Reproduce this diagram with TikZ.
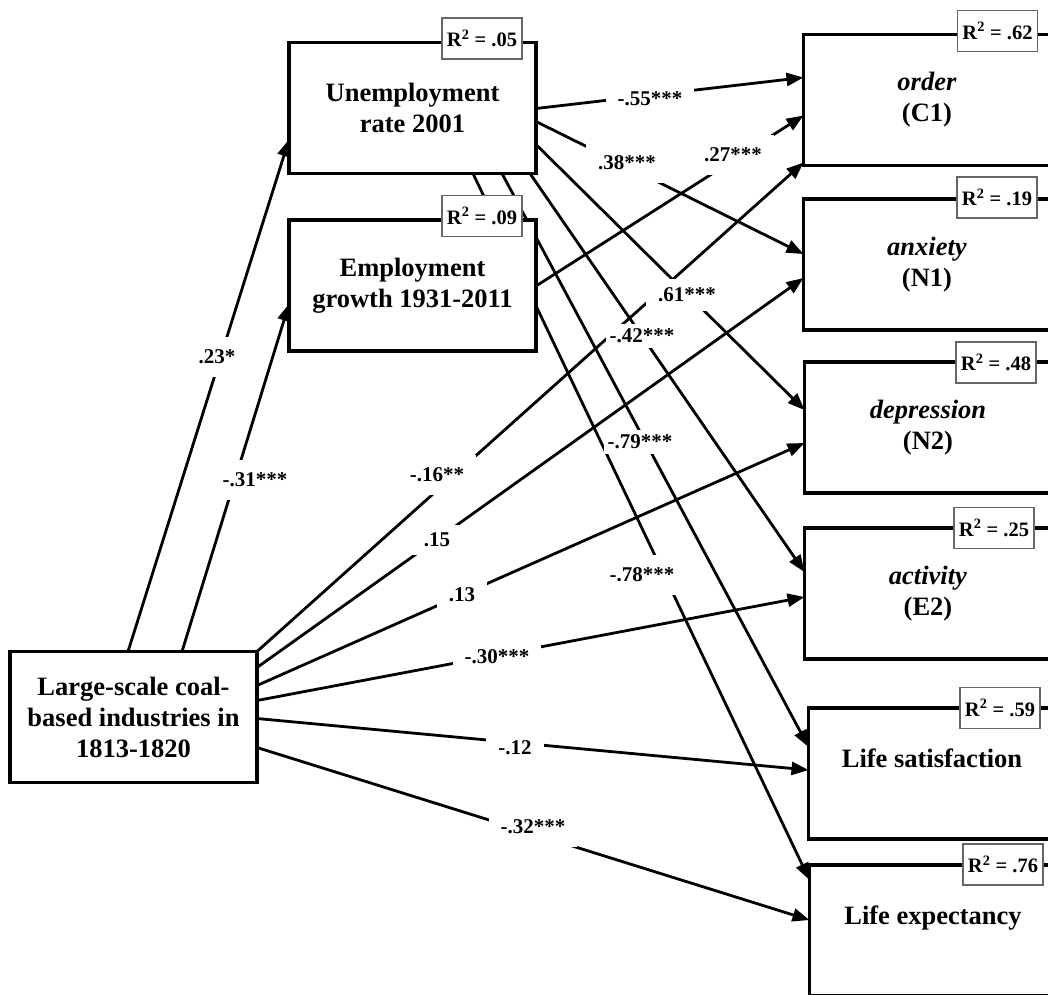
\documentclass[tikz,border=0pt]{standalone}
\usepackage{fontspec}
\setmainfont{Liberation Serif}
\usetikzlibrary{arrows.meta,calc}
\pgfdeclarelayer{bg}
\pgfsetlayers{bg,main}
\begin{document}
\begin{tikzpicture}[x=1pt,y=-1pt,
  box/.style={draw=black, line width=3.6pt, fill=white, minimum width=247pt, minimum height=131pt,
    align=center, inner sep=0pt, outer sep=0pt, font=\fontsize{26.5}{31}\selectfont\bfseries},
  rsq/.style={draw=black!60, line width=1.2pt, fill=white, minimum width=80pt, minimum height=41pt,
    inner sep=0pt, outer sep=0pt, font=\fontsize{20.5}{24}\selectfont\bfseries},
  pth/.style={line width=2.8pt, -{Triangle[length=17pt,width=13pt]}},
  coef/.style={fill=white, inner xsep=12pt, inner ysep=13pt, font=\fontsize{21}{24}\selectfont\bfseries},
  tight/.style={inner xsep=4pt, inner ysep=5pt}
]
\useasboundingbox (0,0) rectangle (1048,994);
\clip (0,0) rectangle (1048,994);

% boxes
\node[box] (U)  at (412.5,108)   {Unemployment\\rate 2001};
\node[box] (E)  at (412.5,285.5) {Employment\\growth 1931-2011};
\node[box] (C1) at (927,100)     {\textit{order}\\(C1)};
\node[box] (N1) at (927,264.5)   {\textit{anxiety}\\(N1)};
\node[box] (N2) at (928,427.5)   {\textit{depression}\\(N2)};
\node[box] (E2) at (928,593.5)   {\textit{activity}\\(E2)};
\node[box] (LS) at (932,773.5)   {Life satisfaction\\\mbox{}};
\node[box] (LE) at (933,930.5)   {Life expectancy\\\mbox{}};
\node[box] (Coal) at (133.5,717) {Large-scale coal-\\based industries in\\1813-1820};

% connectors
\begin{pgfonlayer}{bg}
\draw[pth] ($(Coal.north west)+(118,0)$) -- ($(U.north west)+(0,97)$);
\draw[pth] ($(Coal.north west)+(172,0)$) -- ($(E.north west)+(0,84)$);
\draw[pth] ($(U.north east)+(0,66)$)  -- ($(C1.north west)+(0,43)$);
\draw[pth] ($(U.north east)+(0,79)$)  -- ($(N1.north west)+(0,55)$);
\draw[pth] ($(E.north east)+(0,66)$)  -- ($(C1.north west)+(0,81)$);
\draw[pth] ($(Coal.north east)+(0,0)$)  -- ($(C1.north west)+(0,128)$);
\draw[pth] ($(Coal.north east)+(0,16)$) -- ($(N1.north west)+(0,79)$);
\draw[pth] ($(Coal.north east)+(0,34)$) -- ($(N2.north west)+(0,81)$);
\draw[pth] ($(Coal.north east)+(0,49)$) -- ($(E2.north west)+(0,69)$);
\draw[pth] ($(Coal.north east)+(0,67)$) -- ($(LS.north west)+(0,62)$);
\draw[pth] ($(Coal.north east)+(0,96)$) -- ($(LE.north west)+(0,55)$);
\draw[pth] ($(U.north east)+(0,102)$) -- ($(N2.north west)+(0,48)$);
\draw[pth] ($(U.south west)+(241,0)$) -- ($(E2.north west)+(0,44)$);
\draw[pth] ($(U.south west)+(213,0)$) -- ($(LS.north west)+(0,39)$);
\draw[pth] ($(U.south west)+(184,0)$) -- ($(LE.north west)+(0,15)$);
\end{pgfonlayer}

% coefficients
\node[coef] (c1)  at (217,357) {.23*};
\node[coef] (c2)  at (255,480) {-.31***};
\node[coef] (c3)  at (650,99)  {-.55***};
\node[coef] (c4)  at (627,163) {.38***};
\node[coef] (c5)  at (733,155) {.27***};
\node[coef] (c6)  at (437,475) {-.16**};
\node[coef,inner ysep=8pt] (c7)  at (437,540) {.15};
\node[coef] (c8)  at (462,595) {.13};
\node[coef] (c9)  at (497,657) {-.30***};
\node[coef] (c10) at (515,748) {-.12};
\node[coef] (c11) at (533,827) {-.32***};
\node[coef,inner ysep=9pt] (c12) at (687,295) {.61***};
\node[coef,tight] (c13) at (642,336) {-.42***};
\node[coef,tight] (c14) at (640,442) {-.79***};
\node[coef] (c15) at (642,575) {-.78***};

% R squared
\node[rsq] (rU)  at (482,38.5)   {R\textsuperscript{2} = .05};
\node[rsq] (rE)  at (482,216)    {R\textsuperscript{2} = .09};
\node[rsq] (rC1) at (997.5,31)   {R\textsuperscript{2} = .62};
\node[rsq] (rN1) at (997,197.5)  {R\textsuperscript{2} = .19};
\node[rsq] (rN2) at (996,362.5)  {R\textsuperscript{2} = .48};
\node[rsq] (rE2) at (994,528)    {R\textsuperscript{2} = .25};
\node[rsq] (rLS) at (1000,708)   {R\textsuperscript{2} = .59};
\node[rsq] (rLE) at (1003,864.5) {R\textsuperscript{2} = .76};
\end{tikzpicture}
\end{document}
